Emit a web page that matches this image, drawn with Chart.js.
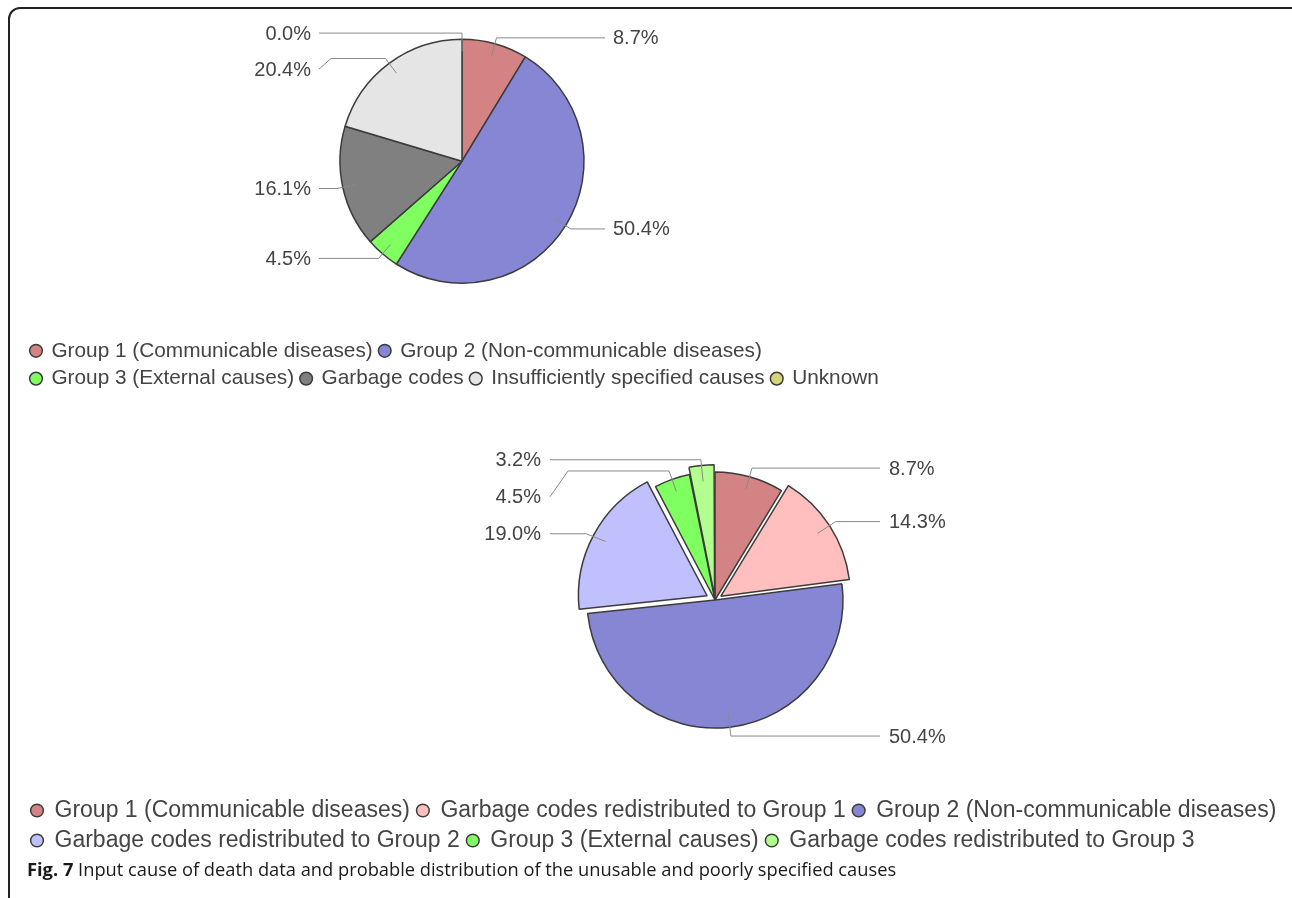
<!DOCTYPE html>
<html>
<head>
<meta charset="utf-8">
<script src="https://cdn.jsdelivr.net/npm/chart.js@4.4.1/dist/chart.umd.min.js"></script>
<style>
  html, body { margin: 0; padding: 0; background: #fff; overflow: hidden; width: 1292px; height: 898px; }
  #frame { position: absolute; left: 8px; top: 7px; width: 1300px; height: 905px; border: 2px solid #222; border-radius: 12px; box-sizing: border-box; }
  #topChart { position: absolute; left: 24px; top: -11px; }
  #bottomChart { position: absolute; left: 24px; top: 408px; }
  #caption { position: absolute; left: 27px; top: 856px; font-family: "Open Sans", sans-serif; font-size: 18.3px; color: #1a1a1a; white-space: nowrap; }
  #caption b { font-weight: 700; }
</style>
</head>
<body>
<div id="frame"></div>
<canvas id="topChart" width="876" height="410"></canvas>
<canvas id="bottomChart" width="1382" height="454"></canvas>
<div id="caption"><b>Fig. 7</b> Input cause of death data and probable distribution of the unusable and poorly specified causes</div>
<script>
// ---- Data (percentages) ----
const topCategories = [
  'Group 1 (Communicable diseases)',
  'Group 2 (Non-communicable diseases)',
  'Group 3 (External causes)',
  'Garbage codes',
  'Insufficiently specified causes',
  'Unknown'
];
const topValues = [8.7, 50.4, 4.5, 16.1, 20.4, 0.0];

const bottomCategories = [
  'Group 1 (Communicable diseases)',
  'Garbage codes redistributed to Group 1',
  'Group 2 (Non-communicable diseases)',
  'Garbage codes redistributed to Group 2',
  'Group 3 (External causes)',
  'Garbage codes redistributed to Group 3'
];
const bottomValues = [8.7, 14.3, 50.4, 19.0, 4.5, 3.2];

// ---- Styles ----
const topColors = ['#d38383', '#8686d4', '#80ff60', '#808080', '#e5e5e5', '#d4d47a'];
const bottomColors = ['#d38383', '#ffbfbf', '#8686d4', '#c0c0ff', '#80ff60', '#b2ff90'];
const bottomOffsets = [0, 28, 0, 36, 0, 16];

const leaderLabels = {
  id: 'leaderLabels',
  afterDatasetsDraw(chart, args, opts) {
    const ctx = chart.ctx;
    const meta = chart.getDatasetMeta(0);
    const values = chart.data.datasets[0].data;
    const items = [];
    meta.data.forEach((arc, i) => {
      const p = arc.getProps(['x', 'y', 'startAngle', 'endAngle', 'outerRadius'], true);
      const mid = (p.startAngle + p.endAngle) / 2;
      const off = (arc.options.offset || 0) / 4;
      const cos = Math.cos(mid), sin = Math.sin(mid);
      const cx = p.x + cos * off, cy = p.y + sin * off;
      const r = p.outerRadius;
      items.push({
        ax: cx + cos * r * opts.anchor, ay: cy + sin * r * opts.anchor,
        bx: cx + cos * r * opts.bend, by: cy + sin * r * opts.bend,
        left: cos < 1e-9,
        pcx: p.x,
        text: Number(values[i]).toFixed(1) + '%'
      });
    });
    ['left', 'right'].forEach(side => {
      const list = items.filter(it => (side === 'left') === it.left).sort((a, b) => a.by - b.by);
      let prev = -Infinity;
      list.forEach(it => {
        it.ly = Math.max(it.by, prev + opts.minGap);
        prev = it.ly;
      });
    });
    ctx.save();
    ctx.strokeStyle = opts.lineColor;
    ctx.lineWidth = 1;
    ctx.font = opts.font;
    ctx.fillStyle = opts.textColor;
    ctx.textBaseline = 'middle';
    items.forEach(it => {
      const endX = it.left ? it.pcx - opts.lineEnd : it.pcx + opts.lineEnd;
      ctx.beginPath();
      ctx.moveTo(it.ax, it.ay);
      const diff = Math.abs(it.ly - it.by);
      if (diff > 4) {
        ctx.lineTo(it.bx, it.by);
        const kx = it.left ? endX + opts.kink : endX - opts.kink;
        ctx.lineTo(kx, it.by);
        ctx.lineTo(endX, it.ly);
      } else {
        ctx.lineTo(it.bx, it.ly);
        ctx.lineTo(endX, it.ly);
      }
      ctx.stroke();
      ctx.textAlign = it.left ? 'right' : 'left';
      ctx.fillText(it.text, it.left ? endX - opts.textGap : endX + opts.textGap, it.ly + 1);
    });
    ctx.restore();
  }
};

function legendOpts(size, boxW) {
  return {
    position: 'bottom',
    align: 'start',
    labels: {
      usePointStyle: true,
      pointStyle: 'circle',
      boxWidth: boxW,
      boxHeight: 9,
      padding: 7,
      color: '#444',
      font: { family: 'Liberation Sans', size: size }
    }
  };
}

new Chart(document.getElementById('topChart'), {
  type: 'pie',
  data: {
    labels: topCategories,
    datasets: [{ data: topValues, backgroundColor: topColors, borderColor: '#3c3c3c', borderWidth: 1.5 }]
  },
  options: {
    responsive: false,
    animation: false,
    radius: 122,
    layout: { padding: 0 },
    plugins: {
      legend: legendOpts(20.8, 10),
      tooltip: { enabled: false },
      leaderLabels: { anchor: 0.9, bend: 1.05, lineEnd: 143, textGap: 8, minGap: 36, kink: 12,
        lineColor: '#8a8a8a', textColor: '#444', font: '20px "Liberation Sans"' }
    }
  },
  plugins: [leaderLabels]
});

new Chart(document.getElementById('bottomChart'), {
  type: 'pie',
  data: {
    labels: bottomCategories,
    datasets: [{ data: bottomValues, backgroundColor: bottomColors, borderColor: '#3c3c3c', borderWidth: 1.5, offset: bottomOffsets }]
  },
  options: {
    responsive: false,
    animation: false,
    radius: 128,
    layout: { padding: 0 },
    plugins: {
      legend: legendOpts(23, 12),
      tooltip: { enabled: false },
      leaderLabels: { anchor: 0.9, bend: 1.07, lineEnd: 165, textGap: 9, minGap: 37, kink: 18,
        lineColor: '#8a8a8a', textColor: '#444', font: '20px "Liberation Sans"' }
    }
  },
  plugins: [leaderLabels]
});
</script>
</body>
</html>
